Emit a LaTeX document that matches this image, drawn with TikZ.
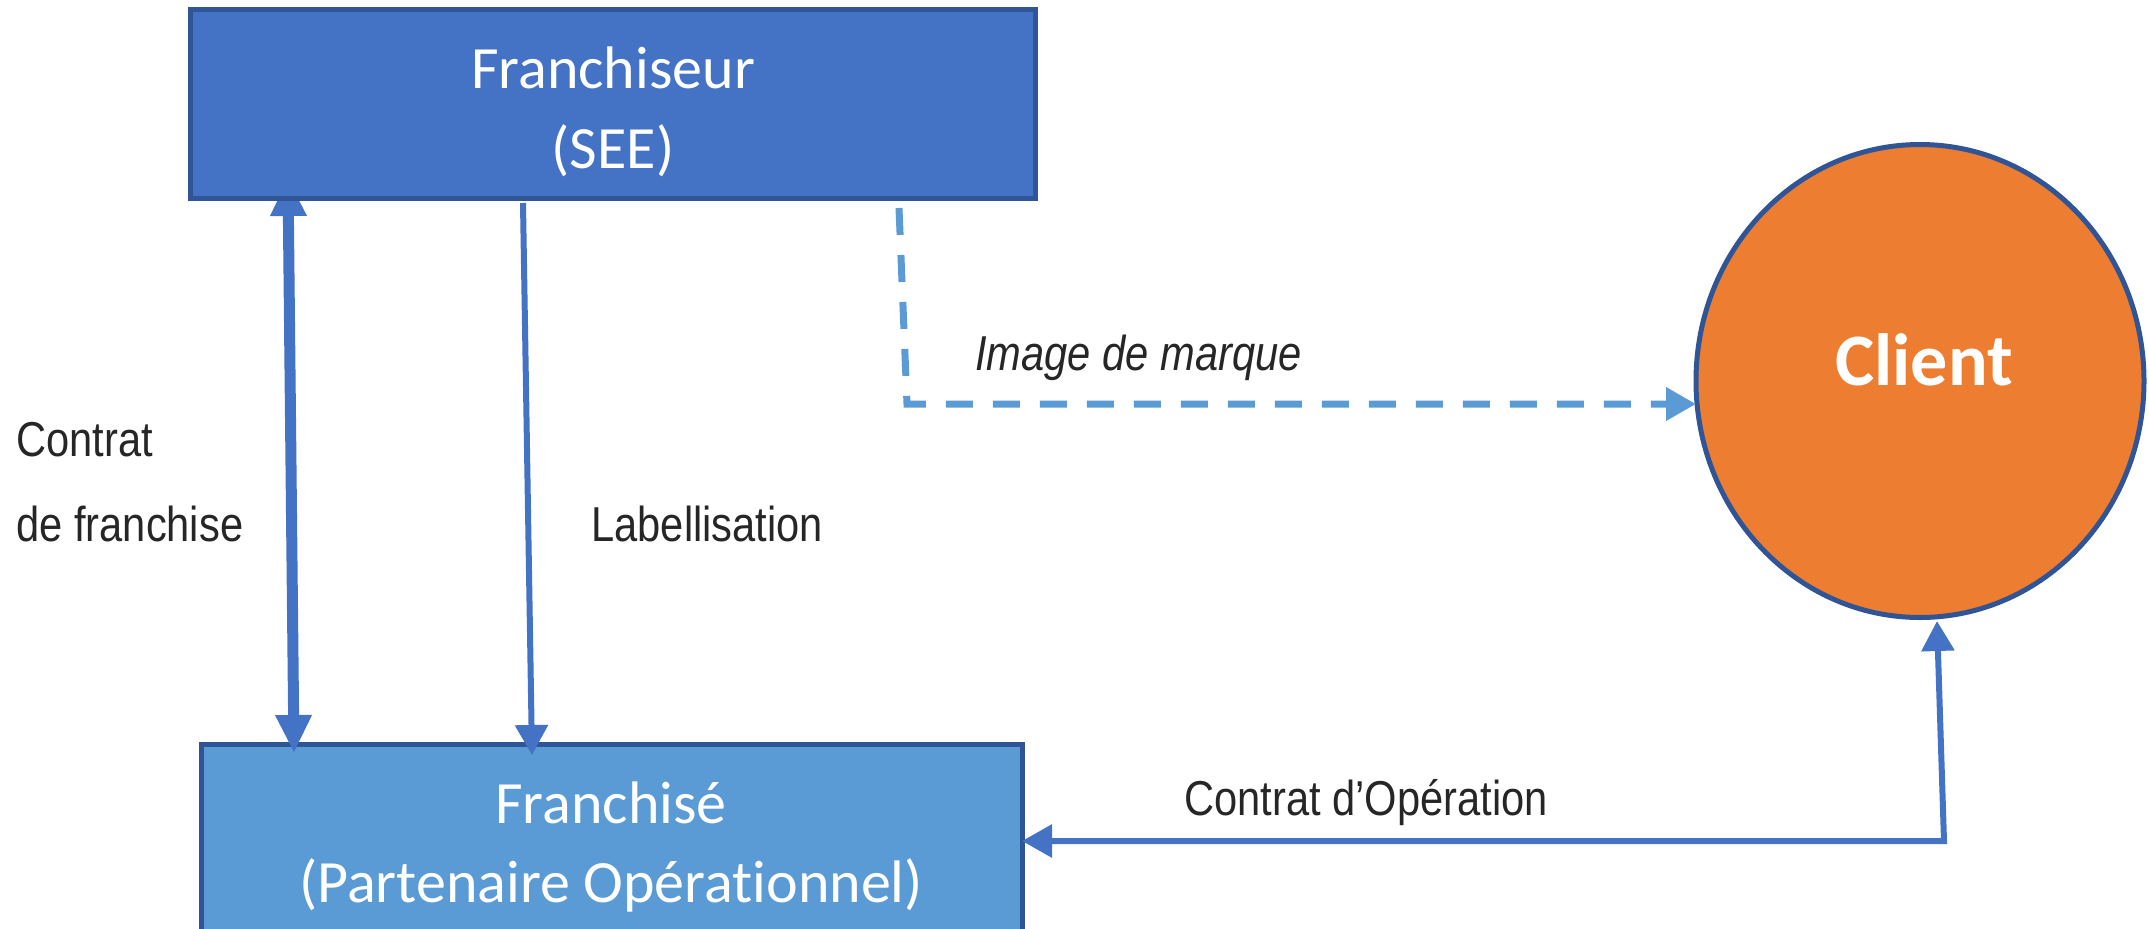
\documentclass[tikz,border=0pt]{standalone}
\usepackage{fontspec}
\setmainfont{Liberation Sans}
\newfontfamily\calfont[Ligatures=NoCommon]{Carlito}
\newfontfamily\lblfont[FakeStretch=0.85]{Liberation Sans}
\usetikzlibrary{arrows.meta,shapes.geometric}
\definecolor{boxdark}{HTML}{4472C4}
\definecolor{boxlight}{HTML}{5B9BD5}
\definecolor{edgeblue}{HTML}{2F5597}
\definecolor{orangec}{HTML}{ED7D31}
\definecolor{txtgray}{HTML}{262626}
\begin{document}
\begin{tikzpicture}[x=0.5pt,y=-0.5pt,
  boxnode/.style={draw=edgeblue, line width=2.5pt, rectangle, inner sep=0pt, outer sep=0pt},
  boxtext/.style={text=white, font=\calfont\fontsize{30}{36}\selectfont, anchor=base, inner sep=0pt},
  lbl/.style={text=txtgray, font=\lblfont\fontsize{24.5}{28}\selectfont, anchor=base west, inner sep=0pt},
  tip/.style={-{Triangle[width=16pt,length=15pt]}},
  bigtip/.style={{Triangle[width=17pt,length=19pt]}-{Triangle[width=17pt,length=19pt]}},
  thickline/.style={draw=boxdark, line width=5.5pt},
  thinline/.style={draw=boxdark, line width=3pt},
  opline/.style={draw=boxdark, line width=3pt},
  dashline/.style={draw=boxlight, line width=3.5pt, dash pattern=on 13.5pt off 10pt},
]
\useasboundingbox (0,0) rectangle (2149,928);
\clip (0,0) rectangle (2149,928);

% Franchise (bottom box)
\node[boxnode, fill=boxlight, minimum width=410.5pt, minimum height=128pt] (fe) at (611.5,872) {};
\node[boxtext] (fe1) at (611,823) {Franchisé};
\node[boxtext] (fe2) at (611,902) {(Partenaire Opérationnel)};

% Client
\node[ellipse, draw=edgeblue, line width=2.5pt, fill=orangec, minimum width=224pt, minimum height=236.5pt, inner sep=0pt] (cl) at (1920,381) {};
\node[text=white, font=\calfont\bfseries\fontsize{37}{44}\selectfont, anchor=base, inner sep=0pt] (clt) at (1924,385) {Client};

% connector end points
\coordinate (cfTop) at (288,178);
\coordinate (cfBot) at (294,753);
\coordinate (labTop) at (523,203);
\coordinate (labBot) at (532,755);
\coordinate (imStart) at (899,208);
\coordinate (imCorner) at (907,404);
\coordinate (imEnd) at (1696,404);
\coordinate (opTip) at (1937,621);
\coordinate (opCorner) at (1944,841);
\coordinate (opEnd) at (1022,841);

% connectors
\draw[thickline, bigtip] (cfTop) -- (cfBot);
\draw[thinline, tip] (labTop) -- (labBot);
\draw[dashline, tip] (imStart) -- (imCorner) -- (imEnd);
\draw[opline, {Triangle[width=16pt,length=15pt]}-{Triangle[width=16pt,length=15pt]}] (opTip) -- (opCorner) -- (opEnd);

% Franchiseur (top box)
\node[boxnode, fill=boxdark, minimum width=422.5pt, minimum height=94.5pt] (fr) at (612.5,103.5) {};
\node[boxtext] (fr1) at (613,88) {Franchiseur};
\node[boxtext] (fr2) at (613,168) {(SEE)};

% labels
\node[lbl] (lc1) at (16,456) {Contrat};
\node[lbl] (lc2) at (16,541) {de franchise};
\node[lbl] (llab) at (591,541) {Labellisation};
\node[lbl, font=\lblfont\itshape\fontsize{24.5}{28}\selectfont] (lim) at (975,370) {Image de marque};
\node[lbl] (lop) at (1184,815) {Contrat d’Opération};
\end{tikzpicture}
\end{document}
